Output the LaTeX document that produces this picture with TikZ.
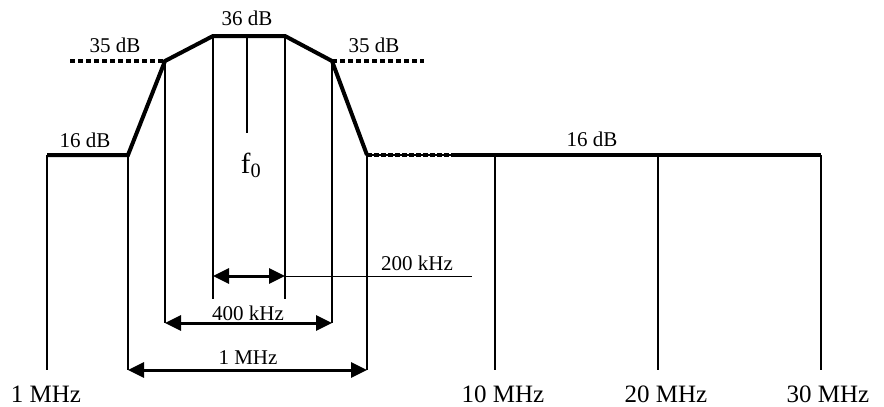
\documentclass[tikz,border=0pt]{standalone}
\usepackage{fontspec}
\setmainfont{Liberation Serif}
\usetikzlibrary{arrows.meta}

\begin{document}
\begin{tikzpicture}[x=1pt,y=-1pt,
        mask/.style={line width=4pt},
        tick/.style={line width=2pt},
        dim/.style={line width=3pt,{Triangle[length=16pt,width=15pt]}-{Triangle[length=16pt,width=15pt]}},
        lvl/.style={font=\fontsize{21}{24}\selectfont,inner sep=1pt},
        freq/.style={font=\fontsize{25}{30}\selectfont,inner sep=0pt,anchor=base,text depth=0pt}]

            \useasboundingbox (0,0) rectangle (884,407);

            % corners of the mask
            \coordinate (a) at (47,155);
            \coordinate (b) at (128,155);
            \coordinate (c) at (165,61);
            \coordinate (d) at (213,36);
            \coordinate (e) at (285,36);
            \coordinate (f) at (332,61);
            \coordinate (g) at (367,155);
            \coordinate (h) at (455,155);
            \coordinate (k) at (821,155);
            \coordinate (m) at (247,36);

            \draw[mask] (a) -- (b) -- (c) -- (d) -- (e) -- (f) -- (g);
            \draw[line width=2pt] (g) -- (h);
            \draw[mask,dash pattern=on 5pt off 2pt] (g) -- (h);
            \draw[mask] (h) -- (k);

            % 35 dB levels
            \coordinate (p) at (70,61);
            \coordinate (q) at (424,61);
            \draw[mask,dash pattern=on 5pt off 3pt] (p) -- (c);
            \draw[mask,dash pattern=on 5pt off 3pt] (f) -- (q);

            % verticals
            \draw[tick] (a) -- (a |- 0,370);
            \draw[tick] (b) -- (b |- 0,370);
            \draw[tick] (c) -- (c |- 0,323);
            \draw[tick] (d) -- (d |- 0,299);
            \draw[tick] (e) -- (e |- 0,299);
            \draw[tick] (f) -- (f |- 0,323);
            \draw[tick] (g) -- (g |- 0,370);
            \draw[tick] (m) -- (m |- 0,133);
            \foreach \x in {495,658,821}{
                \draw[tick] (\x,155) -- (\x,370);
            }

            % widths
            \draw[dim] (d |- 0,276) -- (e |- 0,276);
            \coordinate (r) at (472,276);
            \draw[line width=1pt] (e |- 0,276) -- (r);
            \draw[dim] (c |- 0,323) -- (f |- 0,323);
            \draw[dim] (b |- 0,370) -- (g |- 0,370);

            % labels
            \node[lvl] (top) at (247,18) {36 dB};
            \node[lvl] (lefta) at (115,45) {35 dB};
            \node[lvl] (righta) at (374,45) {35 dB};
            \node[lvl] (leftb) at (85,140) {16 dB};
            \node[lvl] (rightb) at (592,139) {16 dB};
            \node[freq,font=\fontsize{29}{32}\selectfont] (fnull) at (251,173) {f\textsubscript{0}};
            \node[lvl] (kHz200) at (417,263) {200 kHz};
            \node[lvl] (kHz400) at (248,313) {400 kHz};
            \node[lvl] (MHz1) at (248,358) {1 MHz};

            \node[freq] (axa) at (46,402) {1 MHz};
            \node[freq] (axb) at (503,402) {10 MHz};
            \node[freq] (axc) at (666,402) {20 MHz};
            \node[freq] (axd) at (828,402) {30 MHz};
\end{tikzpicture}
\end{document}
